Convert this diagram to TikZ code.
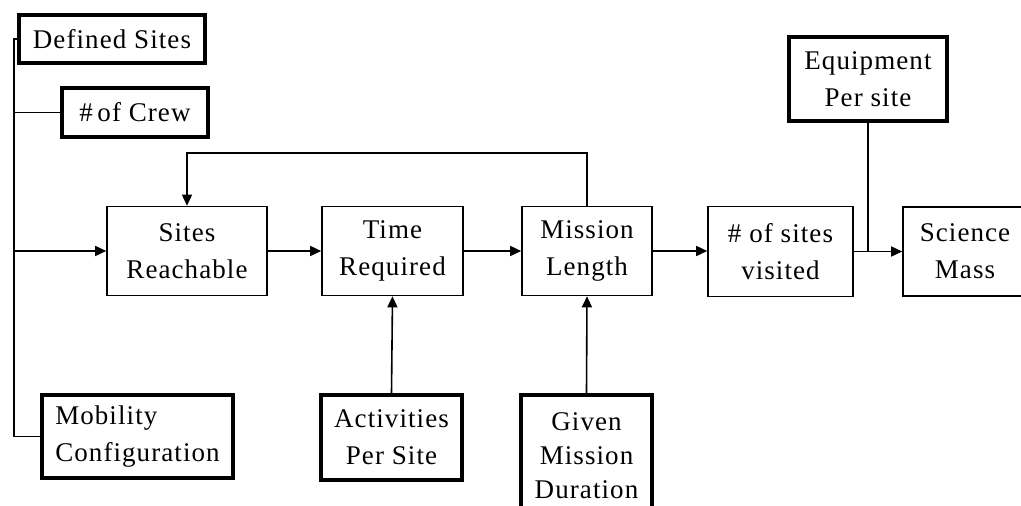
\documentclass[tikz,border=0pt]{standalone}
\usepackage{fontspec}
\setmainfont[LetterSpace=4]{Liberation Serif}
\usetikzlibrary{arrows.meta}
\tikzset{
  box/.style={draw, line width=1.6pt, rectangle, align=center, inner sep=0pt,
    font=\fontsize{27}{37}\selectfont},
  inbox/.style={box, line width=3.6pt},
  conn/.style={line width=1.6pt},
  arr/.style={conn, -{Triangle[length=11pt,width=10pt]}}
}
\begin{document}
\begin{tikzpicture}[x=1pt,y=-1pt]
\useasboundingbox (0,0) rectangle (1021,506);
\fill[white] (0,0) rectangle (1021,506);
% input boxes (thick)
\node[inbox, minimum width=186, minimum height=48] (ds) at (112,39) {Defined Sites};
\node[inbox, minimum width=146, minimum height=49] (crew) at (135,112.5) {\#\,of Crew};
\node[inbox, minimum width=191, minimum height=83, align=left] (mob) at (137.5,436.5) {Mobility\\Configuration};
\node[inbox, minimum width=141, minimum height=85] (act) at (391.5,437.5) {Activities\\Per Site};
\node[inbox, minimum width=131, minimum height=122, font=\fontsize{27}{34}\selectfont] (gmd) at (586.5,456) {Given\\Mission\\Duration};
\node[inbox, minimum width=158, minimum height=84] (eq) at (868,79) {Equipment\\Per site};
% process boxes
\node[box, minimum width=160, minimum height=89] (sr) at (187,251) {Sites\\Reachable};
\node[box, minimum width=141, minimum height=89] (tr) at (392.5,251) {Time\\Required};
\node[box, minimum width=130, minimum height=89] (ml) at (587,251) {Mission\\Length};
\node[box, minimum width=145, minimum height=90] (sv) at (780.5,251.5) {\#\ of sites\\visited};
\node[box, minimum width=124, minimum height=89] (sm) at (965,251.5) {Science\\Mass};
% helper coordinates
\coordinate (trunk) at (14,0);
\coordinate (fb) at (0,153);
% left trunk
\draw[conn] (ds.west) -- (ds.west -| trunk) |- (mob.west);
\draw[conn] (crew.west) -- (crew.west -| trunk);
\draw[arr] (sr.west -| trunk) -- (sr.west);
% main chain
\draw[arr] (sr.east) -- (tr.west);
\draw[arr] (tr.east) -- (ml.west);
\draw[arr] (ml.east) -- (ml.east -| sv.west);
\draw[arr] (sv.east) -- (sm.west);
% feedback
\draw[arr] (ml.north) |- (fb -| sr.north) -- (sr.north);
% inputs from below
\draw[arr] (act.north) -- (tr.south);
\draw[arr] (gmd.north) -- (ml.south);
% equipment
\draw[conn] (eq.south) -- (eq.south |- sv.east);
\end{tikzpicture}
\end{document}
